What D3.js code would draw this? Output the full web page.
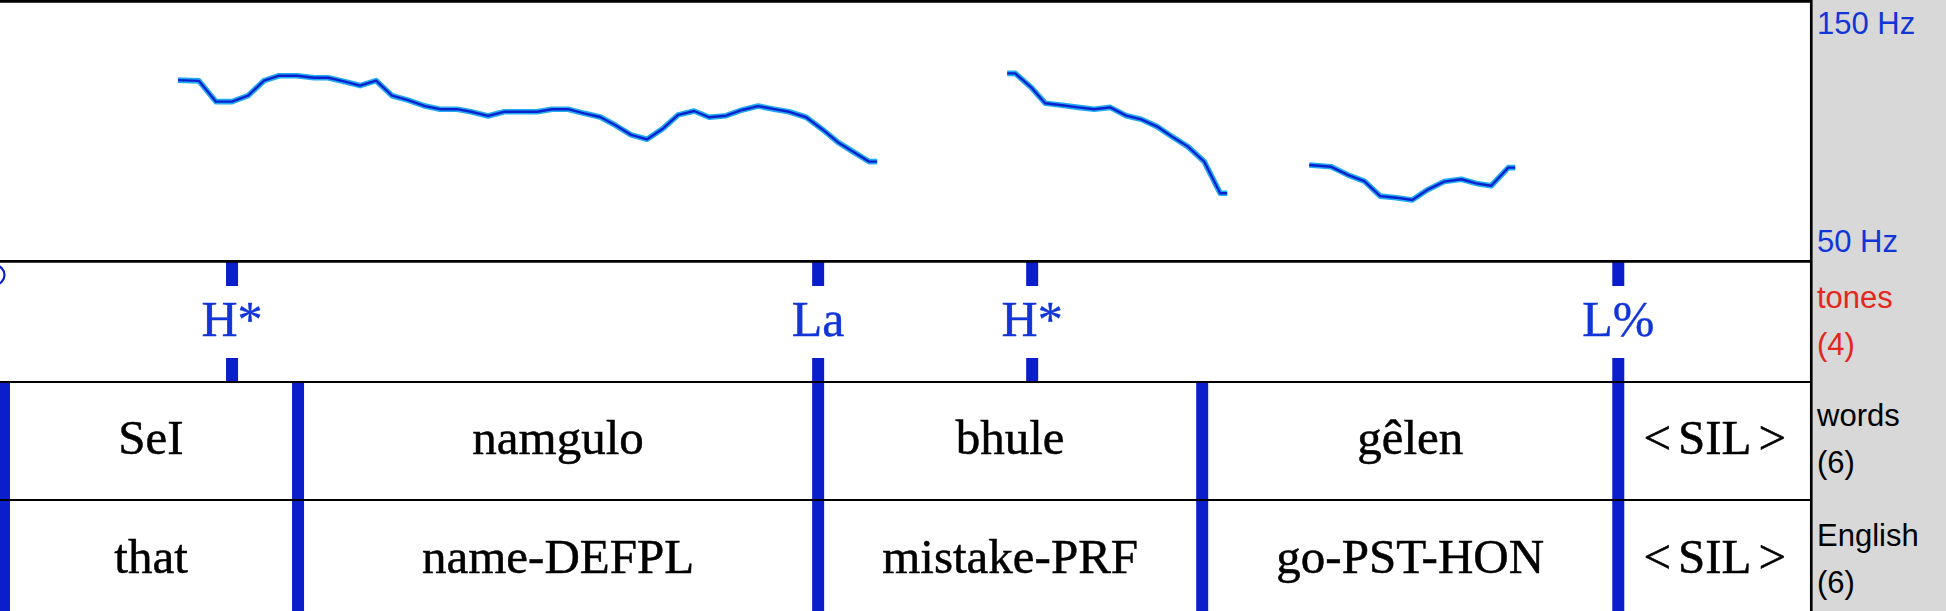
<!DOCTYPE html>
<html><head><meta charset="utf-8">
<script src="https://cdn.jsdelivr.net/npm/d3@7"></script>
<style>html,body{margin:0;padding:0;background:#fff;overflow:hidden}</style>
</head><body><svg id="c" width="1946" height="611"></svg>
<script>
// ---- data ----
const seg1Time = [0.178,0.199,0.216,0.232,0.248,0.264,0.279,0.297,0.314,0.328,0.345,0.360,0.376,0.392,0.408,0.425,0.440,0.457,0.471,0.488,0.504,0.521,0.537,0.552,0.568,0.584,0.600,0.615,0.631,0.647,0.663,0.678,0.694,0.709,0.726,0.742,0.758,0.774,0.789,0.806,0.822,0.838,0.853,0.869,0.877];
const seg1Hz = [119.7,119.4,111.4,111.4,113.7,119.5,121.4,121.4,120.6,120.6,119.1,117.6,119.5,113.7,112.0,109.7,108.5,108.5,107.5,105.9,107.5,107.5,107.5,108.5,108.5,106.9,105.5,102.4,98.6,96.9,101.1,106.3,107.8,105.4,106.0,108.2,109.7,108.5,107.5,105.4,100.8,95.7,92.1,88.3,88.3];
const seg2Time = [1.007,1.015,1.031,1.045,1.062,1.078,1.094,1.110,1.126,1.141,1.157,1.172,1.188,1.204,1.220,1.227];
const seg2Hz = [122.3,122.3,116.9,110.8,110.0,109.2,108.5,109.2,106.0,104.6,101.8,97.9,94.0,88.3,76.1,76.1];
const seg3Time = [1.309,1.331,1.348,1.364,1.380,1.396,1.412,1.427,1.444,1.461,1.476,1.491,1.508,1.515];
const seg3Hz = [87.0,86.3,83.1,80.8,75.0,74.4,73.5,77.4,80.6,81.5,79.9,79.0,86.0,86.0];

const yTickValues = [150, 50];
const yTickLabels = ["150 Hz", "50 Hz"];

const toneLabels = ["H*", "La", "H*", "L%"];
const toneTimes = [0.232, 0.818, 1.032, 1.618];

const wordBounds = [0.004, 0.298, 0.818, 1.202, 1.618];
const wordEnd = 1.811;
const words = ["SeI", "namgulo", "bhule", "gêlen", "<SIL>"];
const english = ["that", "name-DEFPL", "mistake-PRF", "go-PST-HON", "<SIL>"];

const tierNames = ["tones", "words", "English"];
const tierCounts = ["(4)", "(6)", "(6)"];

// ---- layout ----
const W = 1946, H = 611;
const plotRight = 1811.3;
const pitchTop = 1.3, pitchBottom = 261.3;
const tierTops = [261.3, 382, 500];
const tierBottom = 611;
const BLUE = "#0a1ecc", TEXTBLUE = "#1235d8", RED = "#e4261c";

const svg = d3.select("#c");
const x = d3.scaleLinear().domain([0, 1.811]).range([0, plotRight]);
const y = d3.scaleLinear().domain([50, 150]).range([261, 1.5]);

svg.append("rect").attr("width", W).attr("height", H).attr("fill", "#fff");
svg.append("rect").attr("x", plotRight + 1.4).attr("y", 0).attr("width", W - plotRight).attr("height", H).attr("fill", "#d8d8d8");

// pitch contour
const segs = [[seg1Time, seg1Hz], [seg2Time, seg2Hz], [seg3Time, seg3Hz]]
  .map(([t, h]) => t.map((v, i) => ({t: v, hz: h[i]})));
const line = d3.line().x(d => x(d.t)).y(d => y(d.hz));
const pg = svg.append("g");
segs.forEach(s => {
  pg.append("path").attr("d", line(s)).attr("fill", "none").attr("stroke", "#22aaf2").attr("stroke-width", 5.6).attr("stroke-linejoin", "round");
  pg.append("path").attr("d", line(s)).attr("fill", "none").attr("stroke", "#0a20cc").attr("stroke-width", 2.4).attr("stroke-linejoin", "round");
});

// left clipped label fragment
svg.append("circle").attr("cx", -5).attr("cy", 275).attr("r", 9.5).attr("fill", "none").attr("stroke", BLUE).attr("stroke-width", 2.2);

// tone tier bars
const tg = svg.append("g");
toneTimes.forEach(t => {
  tg.append("rect").attr("x", x(t) - 6).attr("y", tierTops[0]).attr("width", 12).attr("height", 286 - tierTops[0]).attr("fill", BLUE);
  tg.append("rect").attr("x", x(t) - 6).attr("y", 358).attr("width", 12).attr("height", tierTops[1] - 358).attr("fill", BLUE);
});
tg.selectAll("text.tone").data(toneLabels).join("text")
  .attr("x", (d, i) => x(toneTimes[i])).attr("y", 336)
  .attr("text-anchor", "middle").attr("fill", TEXTBLUE)
  .attr("stroke", TEXTBLUE).attr("stroke-width", 0.4)
  .style("font-family", "'Liberation Serif', 'Times New Roman', serif").style("font-size", "50px")
  .text(d => d);

// word boundaries
wordBounds.forEach(t => {
  svg.append("rect").attr("x", x(t) - 6).attr("y", tierTops[1]).attr("width", 12).attr("height", tierBottom - tierTops[1]).attr("fill", BLUE);
});
function addInterval(labels, baseline) {
  labels.forEach((lab, i) => {
    const a = wordBounds[i], b = i + 1 < wordBounds.length ? wordBounds[i + 1] : wordEnd;
    const tx = svg.append("text").attr("x", (x(a) + x(b)) / 2).attr("y", baseline)
      .attr("text-anchor", "middle").attr("fill", "#000")
      .attr("stroke", "#000").attr("stroke-width", 0.5)
      .style("font-family", "'Liberation Serif', 'Times New Roman', serif").style("font-size", "49px");
    if (lab === "<SIL>") {
      tx.append("tspan").text("<");
      tx.append("tspan").attr("dx", 7).text("SIL");
      tx.append("tspan").attr("dx", 7).text(">");
    } else tx.text(lab);
  });
}
addInterval(words, 454);
addInterval(english, 573);

// borders
svg.append("line").attr("x1", 0).attr("x2", plotRight).attr("y1", pitchTop).attr("y2", pitchTop).attr("stroke", "#000").attr("stroke-width", 2.7);
svg.append("line").attr("x1", 0).attr("x2", plotRight).attr("y1", pitchBottom).attr("y2", pitchBottom).attr("stroke", "#000").attr("stroke-width", 2.7);
[tierTops[1], tierTops[2]].forEach(yy => {
  svg.append("line").attr("x1", 0).attr("x2", plotRight).attr("y1", yy).attr("y2", yy).attr("stroke", "#000").attr("stroke-width", 2);
});
svg.append("line").attr("x1", plotRight).attr("x2", plotRight).attr("y1", 0).attr("y2", H).attr("stroke", "#000").attr("stroke-width", 2.7);

// right panel labels
const sans = "'Liberation Sans', Arial, Helvetica, sans-serif";
const lx = 1817;
yTickValues.forEach((v, i) => {
  svg.append("text").attr("x", lx).attr("y", v === 150 ? y(v) + 32.5 : y(v) - 9)
    .attr("fill", TEXTBLUE).style("font-family", sans).style("font-size", "31px").text(yTickLabels[i]);
});
const nameBase = [308, 426, 546];
tierNames.forEach((n, i) => {
  const col = i === 0 ? RED : "#000";
  svg.append("text").attr("x", lx).attr("y", nameBase[i]).attr("fill", col).style("font-family", sans).style("font-size", "31px").text(n);
  svg.append("text").attr("x", lx).attr("y", nameBase[i] + 46.5).attr("fill", col).style("font-family", sans).style("font-size", "31px").text(tierCounts[i]);
});
</script>
</body></html>
